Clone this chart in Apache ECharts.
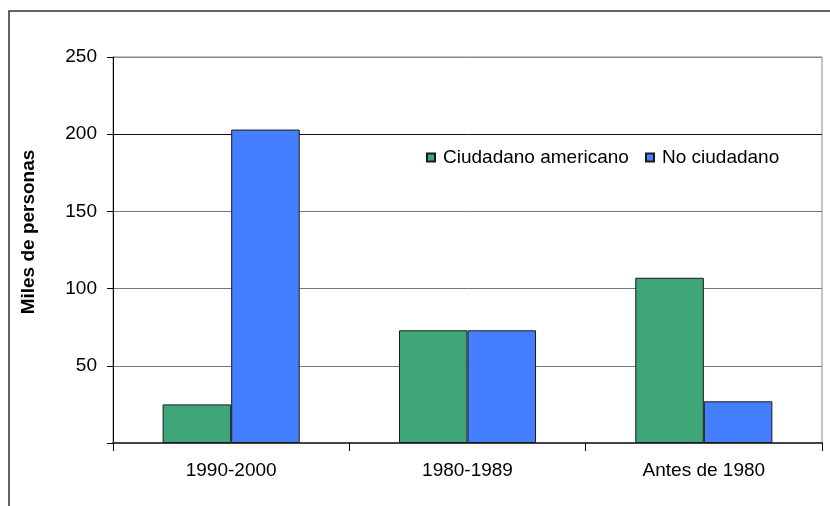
<!DOCTYPE html>
<html>
<head>
<meta charset="utf-8">
<script src="https://cdn.jsdelivr.net/npm/echarts@6/dist/echarts.min.js"></script>
<style>
  html, body { margin: 0; padding: 0; background: #fff; }
  #myChart { width: 830px; height: 506px; }
</style>
</head>
<body>
<div id="myChart"></div>
<script>
// periodos de llegada
var periodos = ['1990-2000', '1980-1989', 'Antes de 1980'];
// miles de personas
var ciudadano = [25, 73, 107];
var noCiudadano = [203, 73, 27];
var yTicks = [0, 50, 100, 150, 200, 250];

var fuente = 'Liberation Sans, Arial, sans-serif';

var myChart = echarts.init(document.getElementById('myChart'));
var option = {
    animation: false,
    backgroundColor: '#fff',
    textStyle: { fontFamily: fuente },
    graphic: [{
        type: 'rect',
        shape: { x: 9, y: 11, width: 1000, height: 1000 },
        style: { fill: 'none', stroke: '#333', lineWidth: 1.5 },
        silent: true
    }],
    legend: [{
        left: 421, top: 143,
        data: ['Ciudadano americano'],
        itemWidth: 8, itemHeight: 8,
        icon: 'rect',
        textStyle: { fontSize: 19, color: '#000', fontFamily: fuente, padding: [0, 0, 0, 3] }
    }, {
        left: 640, top: 143,
        data: ['No ciudadano'],
        itemWidth: 8, itemHeight: 8,
        icon: 'rect',
        textStyle: { fontSize: 19, color: '#000', fontFamily: fuente, padding: [0, 0, 0, 3] }
    }],
    grid: {
        left: 113, right: 8, top: 57, bottom: 63,
        show: true, borderColor: '#888', borderWidth: 1
    },
    xAxis: {
        type: 'category',
        data: periodos,
        axisLine: { lineStyle: { color: '#444', width: 2 } },
        axisTick: { show: true, alignWithLabel: false, length: 8, lineStyle: { color: '#000' } },
        axisLabel: { fontSize: 19, color: '#000', margin: 18, fontFamily: fuente },
        splitLine: { show: false }
    },
    yAxis: {
        type: 'value',
        min: yTicks[0], max: yTicks[yTicks.length - 1], interval: 50,
        name: 'Miles de personas',
        nameLocation: 'middle',
        nameRotate: 90,
        nameGap: 75,
        nameTextStyle: {
            fontSize: 19, fontWeight: 'bold', color: '#000', fontFamily: fuente,
            padding: [0, 0, 0, 36]
        },
        axisLine: { show: true, lineStyle: { color: '#000', width: 1 } },
        axisTick: { show: true, length: 6, lineStyle: { color: '#000' } },
        axisLabel: {
            fontSize: 19, color: '#000', margin: 16, fontFamily: fuente,
            formatter: function (v) { return v === 0 ? '' : String(v); }
        },
        splitLine: { show: true, lineStyle: { color: ['#777', '#777', '#777', '#777', '#111', '#888'], width: 1 } }
    },
    series: [{
        name: 'Ciudadano americano',
        type: 'bar',
        data: ciudadano,
        barGap: '0%',
        barCategoryGap: '42%',
        itemStyle: { color: '#3FA67A', borderColor: '#1a1a1a', borderWidth: 1 }
    }, {
        name: 'No ciudadano',
        type: 'bar',
        data: noCiudadano,
        barGap: '0%',
        barCategoryGap: '42%',
        itemStyle: { color: '#447FFF', borderColor: '#1a1a1a', borderWidth: 1 }
    }]
};
myChart.setOption(option);
</script>
</body>
</html>
